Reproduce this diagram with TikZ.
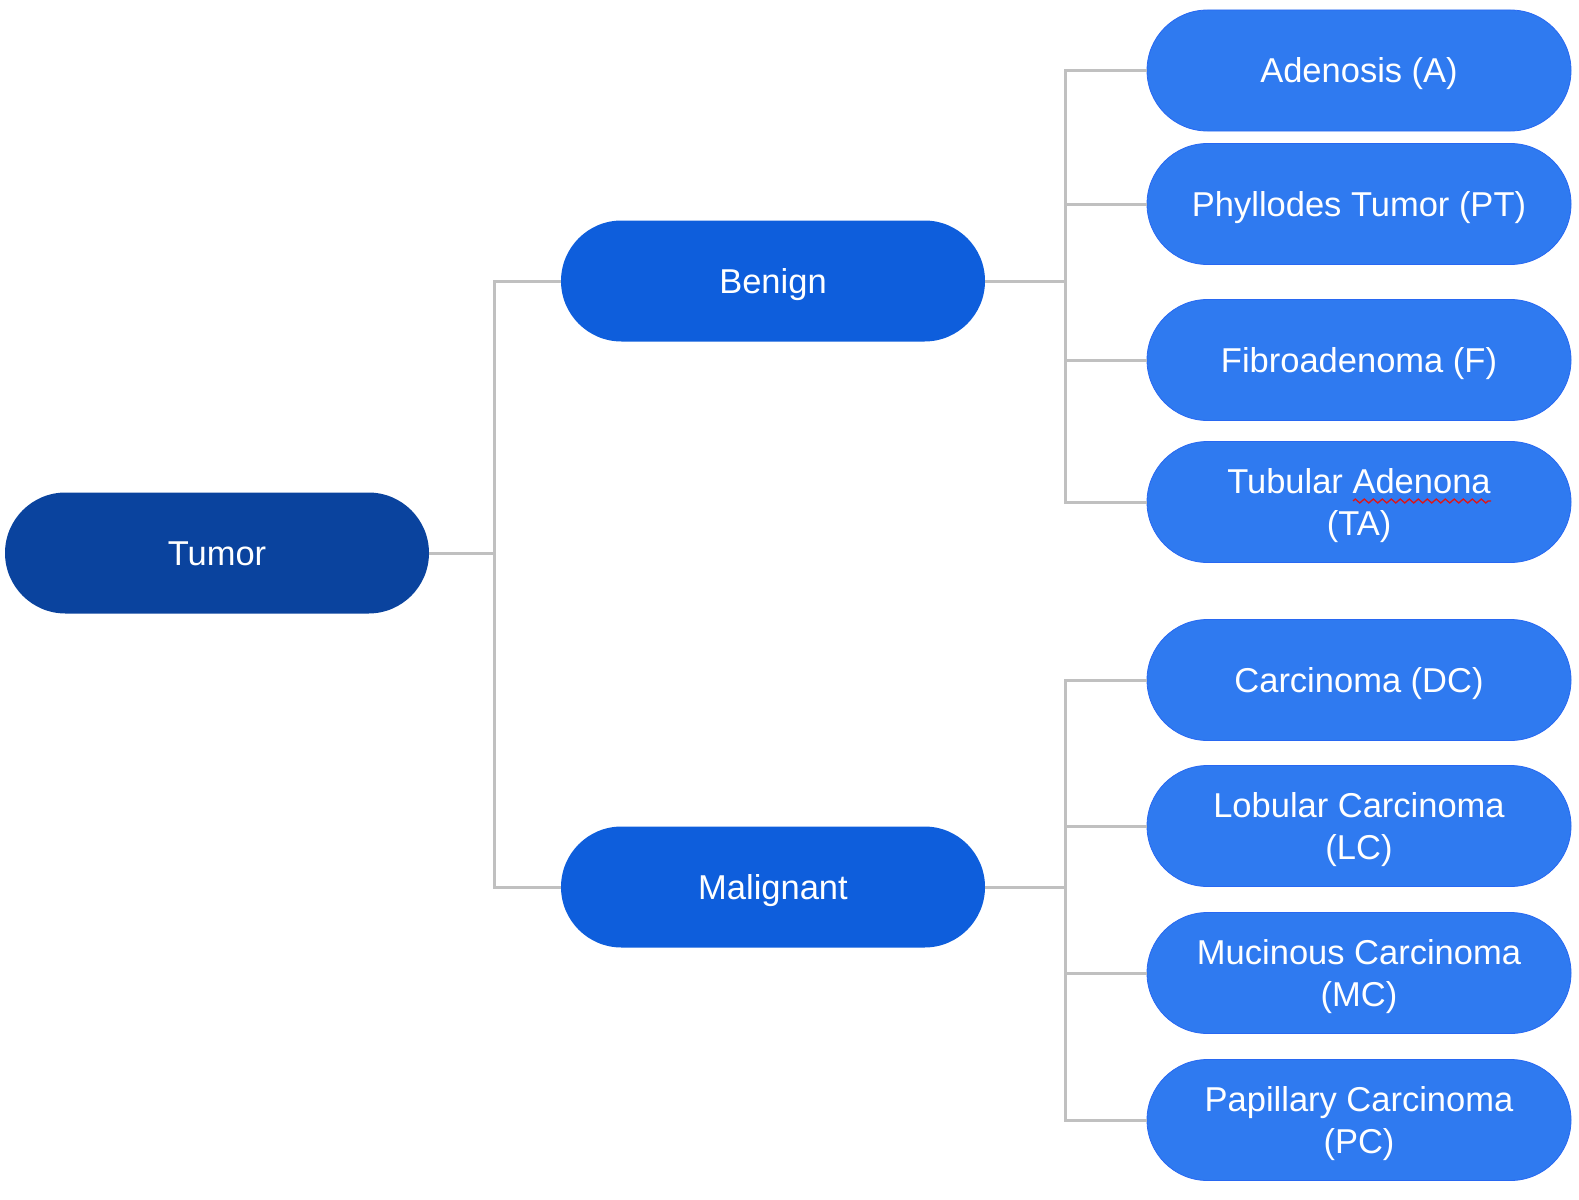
\documentclass[tikz,border=0pt]{standalone}
\usepackage{fontspec}
\setmainfont{Liberation Sans}
\usetikzlibrary{decorations.pathmorphing}
\definecolor{cdark}{RGB}{10,67,158}
\definecolor{cmid}{RGB}{14,94,220}
\definecolor{clight}{RGB}{47,122,240}
\definecolor{cline}{RGB}{192,192,192}
\definecolor{csquig}{RGB}{225,20,20}
\begin{document}
\begin{tikzpicture}[x=1pt,y=-1pt,
  pill/.style={rectangle,rounded corners=60.5pt,minimum width=424pt,minimum height=121pt,
    inner sep=0pt,align=center,text=white,font=\fontsize{34.5}{42}\selectfont,
    text height=24.7pt,text depth=0pt},
  two/.style={text height=66.7pt,text depth=0pt},
  lvl0/.style={pill,fill=cdark},
  lvl1/.style={pill,fill=cmid},
  lvl2/.style={pill,fill=clight,draw=clight!85!blue,line width=0.8pt},
  conn/.style={draw=cline,line width=3pt},
  squig/.style={draw=csquig,line width=1.3pt,decorate,decoration={zigzag,amplitude=2pt,segment length=9pt}}]
\useasboundingbox (0,0) rectangle (1579,1199);
\node[lvl0] (tumor) at (217,553) {Tumor};
\node[lvl1] (benign) at (773,281) {Benign};
\node[lvl1] (malig) at (773,887) {Malignant};
\node[lvl2] (a) at (1359,70.5) {Adenosis (A)};
\node[lvl2] (pt) at (1359,204) {Phyllodes Tumor (PT)};
\node[lvl2] (f) at (1359,360) {Fibroadenoma (F)};
\node[lvl2,two] (ta) at (1359,502) {Tubular Adenona\\(TA)};
\node[lvl2] (dc) at (1359,680) {Carcinoma (DC)};
\node[lvl2,two] (lc) at (1359,826) {Lobular Carcinoma\\(LC)};
\node[lvl2,two] (mc) at (1359,973) {Mucinous Carcinoma\\(MC)};
\node[lvl2,two] (pc) at (1359,1120) {Papillary Carcinoma\\(PC)};
\draw[squig] ([xshift=-6pt,yshift=1pt]ta.center) -- ([xshift=132pt,yshift=1pt]ta.center);
\coordinate (j1) at (494.5,553);
\coordinate (j2) at (1065.5,281);
\coordinate (j3) at (1065.5,887);
\draw[conn] (tumor.east) -- (j1);
\draw[conn] (benign.west) -| (j1);
\draw[conn] (malig.west) -| (j1);
\draw[conn] (benign.east) -- (j2);
\draw[conn] (malig.east) -- (j3);
\foreach \n in {a,pt,f,ta} \draw[conn] (\n.west) -| (j2);
\foreach \n in {dc,lc,mc,pc} \draw[conn] (\n.west) -| (j3);
\end{tikzpicture}
\end{document}
